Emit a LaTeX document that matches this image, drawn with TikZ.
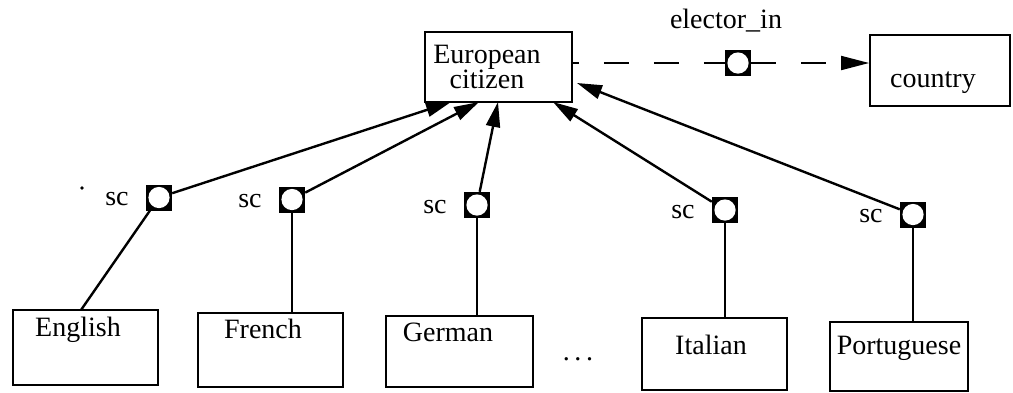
\documentclass[tikz,border=0pt]{standalone}
\usepackage{fontspec}
\setmainfont{Liberation Serif}
\usetikzlibrary{arrows.meta}
\begin{document}
\begin{tikzpicture}[x=1pt,y=-1pt,
  every node/.style={font=\fontsize{28}{32}\selectfont},
  box/.style={draw, line width=1.8pt, inner sep=0pt},
  txt/.style={anchor=base, inner sep=0pt},
  port/.style={rectangle, fill=black, minimum size=26pt, inner sep=0pt,
    path picture={\fill[white] (path picture bounding box.center) circle (10.6pt);}},
  conn/.style={line width=2.4pt},
  isa/.style={conn, -{Triangle[length=25pt,width=14pt]}},
  ref/.style={line width=1.8pt, -{Triangle[length=28pt,width=14pt]}}
]
\useasboundingbox (0,0) rectangle (1013,392);

% classes
\node[box, minimum width=147pt, minimum height=70pt] (ec) at (498.5,67) {};
\node[box, minimum width=140pt, minimum height=71pt] (co) at (940,70.5) {};
\node[box, minimum width=145pt, minimum height=75pt] (en) at (85.5,347.5) {};
\node[box, minimum width=145pt, minimum height=74pt] (fr) at (270.5,350) {};
\node[box, minimum width=147pt, minimum height=71pt] (ge) at (459.5,351.5) {};
\node[box, minimum width=145pt, minimum height=72pt] (it) at (714.5,354) {};
\node[box, minimum width=138pt, minimum height=69pt] (pt) at (899,356.5) {};

% class names
\node[inner sep=0pt, align=center, font=\fontsize{28}{24}\selectfont] (ecT) at (487,67) {European\\citizen};
\node[txt] (coT) at (933,87) {country};
\node[txt] (enT) at (78,336) {English};
\node[txt] (frT) at (263,338) {French};
\node[txt] (geT) at (448,341) {German};
\node[txt] (itT) at (711,354) {Italian};
\node[txt] (ptT) at (899,354) {Portuguese};
\node[txt] (more) at (578,360) {.\,.\,.};

% sub-class ports
\node[port] (pe) at (159,197.5) {};
\node[port] (pf) at (292,199.5) {};
\node[port] (pg) at (477,205) {};
\node[port] (pi) at (725,210) {};
\node[port] (pp) at (913,214.5) {};
\foreach \p in {pe,pf,pg,pi,pp}
  \node[anchor=east, inner sep=0pt, yshift=-2pt] (\p l) at ([xshift=-17pt]\p.west) {sc};
\fill (82,188) circle (1.8pt);

% relationship port
\node[port] (el) at (738,63) {};
\node[txt] (elT) at (726,28) {elector\_in};

% arrow ends on the European citizen box
\coordinate (tE) at (451,102);
\coordinate (tF) at (479,102);
\coordinate (tG) at (498,102);
\coordinate (tI) at (553,102);
\coordinate (tP) at (577,83);
\coordinate (bE) at (81,310);

% sub-class links
\draw[conn] (bE) -- (pe);
\draw[isa] (pe) -- (tE);
\draw[conn] (pf |- fr.north) -- (pf);
\draw[isa] (pf) -- (tF);
\draw[conn] (pg |- ge.north) -- (pg);
\draw[isa] (pg) -- (tG);
\draw[conn] (pi |- it.north) -- (pi);
\draw[isa] (pi) -- (tI);
\draw[conn] (pp |- pt.north) -- (pp);
\draw[isa] (pp) -- (tP);

% elector_in reference
\draw[line width=1.8pt, dash pattern=on 25pt off 25pt, dash phase=19pt] (el -| ec.east) -- (el);
\draw[ref, dash pattern=on 25pt off 25pt] (el) -- (el -| co.west);
\end{tikzpicture}
\end{document}
